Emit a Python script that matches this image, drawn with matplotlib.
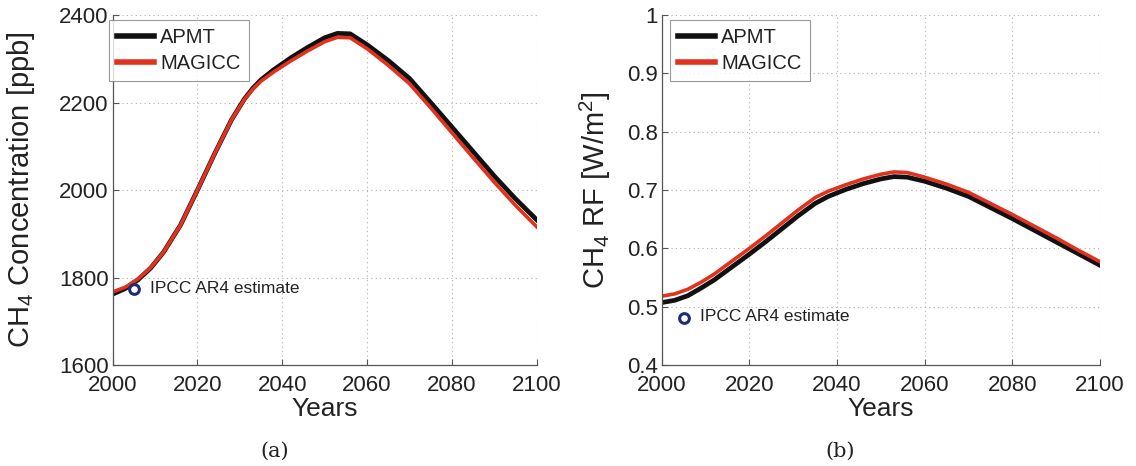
import matplotlib
matplotlib.use('Agg')
from matplotlib import pyplot as plt

plt.rcParams['font.family'] = ['Liberation Sans', 'DejaVu Sans']
plt.rcParams['mathtext.fontset'] = 'custom'
plt.rcParams['mathtext.rm'] = 'Liberation Sans'
plt.rcParams['mathtext.it'] = 'Liberation Sans:italic'

# data (denser where the curves bend)
years = [2000, 2003, 2006, 2009, 2012, 2016, 2020, 2024, 2028, 2031, 2033, 2035, 2038,
         2042, 2046, 2050, 2053, 2056, 2060, 2065, 2070, 2075, 2080, 2085, 2090, 2095, 2100]

conc_apmt = [1762, 1775, 1795, 1822, 1858, 1920, 2000, 2082, 2160, 2207, 2232, 2252, 2275,
             2302, 2326, 2348, 2358, 2357, 2332, 2296, 2255, 2200, 2144, 2088, 2032, 1980, 1932]
conc_magicc = [1767, 1778, 1797, 1823, 1858, 1920, 2000, 2082, 2160, 2206, 2230, 2249, 2270,
               2295, 2318, 2339, 2349, 2348, 2323, 2285, 2243, 2188, 2131, 2074, 2018, 1965, 1916]

rf_apmt = [0.507, 0.511, 0.519, 0.532, 0.546, 0.568, 0.590, 0.613, 0.637, 0.655, 0.666, 0.677,
           0.689, 0.701, 0.711, 0.719, 0.723, 0.722, 0.715, 0.703, 0.689, 0.670, 0.651, 0.631,
           0.611, 0.591, 0.571]
rf_magicc = [0.518, 0.522, 0.530, 0.542, 0.556, 0.578, 0.600, 0.623, 0.647, 0.665, 0.676, 0.687,
             0.698, 0.709, 0.719, 0.727, 0.731, 0.730, 0.722, 0.710, 0.696, 0.677, 0.658, 0.638,
             0.618, 0.597, 0.577]

ipcc_year = 2005
ipcc_conc = 1774
ipcc_rf = 0.48

x_ticks = [2000, 2020, 2040, 2060, 2080, 2100]
conc_ticks = [1600, 1800, 2000, 2200, 2400]
rf_ticks = [0.4, 0.5, 0.6, 0.7, 0.8, 0.9, 1.0]
rf_tick_labels = ['0.4', '0.5', '0.6', '0.7', '0.8', '0.9', '1']

BLACK = '#111111'
RED = '#e0321e'
NAVY = '#1c2c7c'


def style_axes(ax):
    for side in ['top', 'right']:
        ax.spines[side].set_visible(False)
    for side in ['left', 'bottom']:
        ax.spines[side].set_color('#555555')
        ax.spines[side].set_linewidth(0.9)
    ax.grid(True, linestyle=(0, (1, 3)), color='#b0b0b0', linewidth=0.8)
    ax.tick_params(direction='in', length=4, width=0.8, color='#555555',
                   labelsize=16, labelcolor='#222222')
    ax.tick_params(axis='x', pad=7)
    ax.tick_params(axis='y', pad=3)
    ax.set_axisbelow(True)


def draw_panel(ax, y_apmt, y_magicc, ipcc_y, ylim, yticks, yticklabels, ylabel,
               legend_x, text_y):
    ax.plot(years, y_apmt, color=BLACK, lw=3.4, label='APMT', solid_joinstyle='round')
    ax.plot(years, y_magicc, color=RED, lw=2.6, label='MAGICC', solid_joinstyle='round')
    ax.plot([ipcc_year], [ipcc_y], 'o', mfc='none', mec=NAVY, mew=2.2, ms=7, clip_on=False)
    ax.text(2008.8, text_y, 'IPCC AR4 estimate', fontsize=12.5, color='#222222',
            va='center', ha='left')
    ax.set_xlim(2000, 2100)
    ax.set_ylim(*ylim)
    ax.set_xticks(x_ticks)
    ax.set_yticks(yticks)
    ax.set_yticklabels(yticklabels)
    style_axes(ax)
    ax.set_xlabel('Years', fontsize=19, color='#222222')
    ax.set_ylabel(ylabel, fontsize=21, color='#222222')
    leg = ax.legend(loc='upper left', bbox_to_anchor=(legend_x, 0.985), fontsize=14.5,
                    frameon=True, fancybox=False, handlelength=1.85, handletextpad=0.3,
                    borderpad=0.4, labelspacing=0.35, borderaxespad=0.0)
    leg.get_frame().set_edgecolor('#808080')
    leg.get_frame().set_linewidth(0.8)
    for line in leg.get_lines():
        line.set_linewidth(4)
    for t in leg.get_texts():
        t.set_color('#222222')


def main():
    fig = plt.figure(figsize=(11.36, 4.66), dpi=100)
    ax_a = fig.add_axes([0.0992, 0.2167, 0.3732, 0.7511])
    ax_b = fig.add_axes([0.5825, 0.2167, 0.3858, 0.7511])

    draw_panel(ax_a, conc_apmt, conc_magicc, ipcc_conc, (1600, 2400), conc_ticks,
               [str(v) for v in conc_ticks], r'CH$_4$ Concentration [ppb]', -0.009, 1774)
    draw_panel(ax_b, rf_apmt, rf_magicc, ipcc_rf, (0.4, 1.0), rf_ticks,
               rf_tick_labels, r'CH$_4$ RF [W/m$^2$]', 0.019, 0.483)

    ax_a.yaxis.set_label_coords(-0.178, 0.5)
    ax_b.yaxis.set_label_coords(-0.112, 0.5)
    ax_a.xaxis.set_label_coords(0.5, -0.09)
    ax_b.xaxis.set_label_coords(0.5, -0.09)

    fig.text(275 / 1136, 0.032, '(a)', family='DejaVu Serif', fontsize=15,
             ha='center', va='center', color='#222222')
    fig.text(840 / 1136, 0.032, '(b)', family='DejaVu Serif', fontsize=15,
             ha='center', va='center', color='#222222')

    fig.savefig('out.png', dpi=100)


if __name__ == '__main__':
    main()
